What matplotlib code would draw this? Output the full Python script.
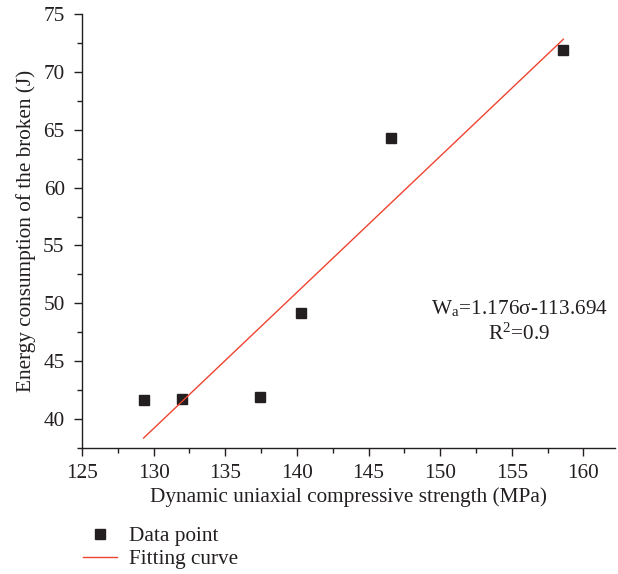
import matplotlib
matplotlib.use("Agg")
import matplotlib.pyplot as plt
from matplotlib.ticker import MultipleLocator

# values
strength = [129.3, 132.0, 137.4, 140.3, 146.6, 158.6]
energy = [41.65, 41.7, 41.95, 49.2, 64.3, 71.9]
slope, intercept = 1.176, -113.694
fit_x = [min(strength), max(strength)]
fit_y = [slope * v + intercept for v in fit_x]

ink = '#231f20'
plt.rcParams['font.family'] = 'Liberation Serif'
plt.rcParams['font.size'] = 15.3
plt.rcParams['mathtext.fontset'] = 'stix'
plt.rcParams['text.color'] = ink
plt.rcParams['axes.labelcolor'] = ink
plt.rcParams['xtick.color'] = ink
plt.rcParams['ytick.color'] = ink

fig = plt.figure(figsize=(6.18, 5.74), dpi=100)
ax = fig.add_axes([0.1327, 0.2195, 0.8623, 0.7561])

pts, = ax.plot(strength, energy, 's', color=ink, markersize=7.2, linestyle='none',
               label='Data point')
fit, = ax.plot(fit_x, fit_y, color='#ee4430', linewidth=1.0, label='Fitting curve')

ax.set_xlim(125, 162.2)
ax.set_ylim(37.5, 75)
ax.xaxis.set_major_locator(MultipleLocator(5))
ax.xaxis.set_minor_locator(MultipleLocator(2.5))
ax.yaxis.set_major_locator(MultipleLocator(5))
ax.yaxis.set_minor_locator(MultipleLocator(2.5))
ax.tick_params(which='major', direction='out', length=6, width=1.0)
ax.tick_params(which='minor', direction='out', length=3.5, width=1.0)
ax.tick_params(axis='x', which='major', pad=5.5)
ax.tick_params(axis='y', which='major', pad=6.5)
for side in ('top', 'right'):
    ax.spines[side].set_visible(False)
for side in ('left', 'bottom'):
    ax.spines[side].set_color(ink)
    ax.spines[side].set_linewidth(1.0)

ax.set_xlabel('Dynamic uniaxial compressive strength (MPa)', labelpad=3)
ax.set_ylabel('Energy consumption of the broken (J)', labelpad=5)

ax.text(0.82, 0.32, r'W$_\mathregular{a}$=1.176σ-113.694', transform=ax.transAxes,
        ha='center', va='center')
ax.text(0.82, 0.263, r'R$^\mathregular{2}$=0.9', transform=ax.transAxes,
        ha='center', va='center')

fig.legend(handles=[pts, fit], loc='upper left', bbox_to_anchor=(0.134, 0.083),
           frameon=False, handlelength=1.6, handletextpad=0.56, labelspacing=0.15,
           borderaxespad=0, borderpad=0)

fig.savefig('out.png', dpi=100)
